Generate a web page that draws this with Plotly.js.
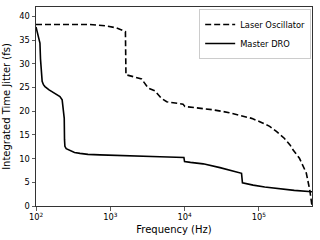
<!DOCTYPE html>
<html>
<head>
<meta charset="utf-8">
<script src="https://cdn.plot.ly/plotly-3.0.1.min.js"></script>
<style>html,body{margin:0;padding:0;background:#fff;}#chart{width:320px;height:240px;}</style>
</head>
<body>
<div id="chart"></div>
<script>
// Laser Oscillator (dashed)
var laserFreq = [100, 300, 530, 900, 1200, 1450, 1600, 1626, 1700, 2040, 2640, 2900, 3240, 3990, 4400, 4900, 5750, 7500, 9540, 10100, 15000, 24300, 40000, 55700, 80000, 103000, 140000, 174000, 220000, 263000, 290000, 352000, 416000, 435000, 485000, 512000, 520000];
var laserJitter = [38.3, 38.3, 38.3, 38.0, 37.6, 37.1, 36.8, 27.7, 27.6, 27.3, 26.8, 25.9, 24.9, 24.3, 23.5, 22.7, 22.0, 21.8, 21.5, 21.0, 20.7, 20.3, 19.7, 19.2, 18.5, 17.8, 16.8, 15.7, 14.3, 12.9, 11.8, 10.1, 7.6, 7.0, 3.4, 0.7, 0.0];
// Master DRO (solid)
var droFreq = [100, 104, 108, 111, 113, 115, 117, 121, 126, 132, 150, 180, 210, 225, 233, 240, 242, 245, 255, 287, 330, 391, 500, 727, 1500, 4660, 9800, 10000, 12000, 17800, 30000, 58500, 60200, 70000, 83800, 120000, 173000, 300000, 520000];
var droJitter = [37.8, 36.5, 35.2, 34.7, 34.4, 31.0, 28.5, 26.3, 25.6, 25.2, 24.5, 23.8, 23.1, 22.4, 20.6, 18.5, 14.0, 12.6, 12.1, 11.7, 11.3, 11.1, 10.9, 10.8, 10.7, 10.4, 10.25, 9.4, 9.2, 8.9, 8.1, 6.9, 4.9, 4.6, 4.4, 4.0, 3.7, 3.3, 3.0];

var xTickVals = [100, 1000, 10000, 100000];
var xTickText = ['10<sup>2</sup>', '10<sup>3</sup>', '10<sup>4</sup>', '10<sup>5</sup>'];
var seriesNames = ['Laser Oscillator', 'Master DRO'];

// minor tick positions: 2..9 times each decade
var minorTicks = [];
xTickVals.forEach(function (d) { for (var k = 2; k <= 9; k++) minorTicks.push(d * k); });

var FONT = 'DejaVu Sans, sans-serif';
var XR = [2, Math.log10(520000)];
var traces = [
  {x: laserFreq, y: laserJitter, name: seriesNames[0], mode: 'lines', type: 'scatter',
   line: {color: '#000', width: 1.6, dash: '6px,3px'}},
  {x: droFreq, y: droJitter, name: seriesNames[1], mode: 'lines', type: 'scatter',
   line: {color: '#000', width: 1.6}}
];
var layout = {
  width: 320, height: 240,
  margin: {l: 36, r: 8, t: 7, b: 34},
  paper_bgcolor: '#fff', plot_bgcolor: '#fff',
  font: {family: FONT, size: 8.3, color: '#000'},
  showlegend: true,
  legend: {x: 0.997, y: 0.99, xanchor: 'right', yanchor: 'top',
    bgcolor: 'rgba(255,255,255,0.8)', bordercolor: '#ccc', borderwidth: 1,
    font: {family: FONT, size: 8.3, color: '#000'}, tracegroupgap: 0, itemwidth: 30},
  xaxis: {
    type: 'log', range: XR,
    tickmode: 'array', tickvals: xTickVals, ticktext: xTickText,
    ticks: 'outside', ticklen: 3.5, tickcolor: '#333', tickwidth: 0.8,
    showline: true, linecolor: '#333', linewidth: 1, mirror: true,
    showgrid: false, zeroline: false,
    tickfont: {family: FONT, size: 8.3, color: '#000'},
    title: {text: 'Frequency (Hz)', font: {family: FONT, size: 10, color: '#000'}, standoff: 4},
    automargin: false
  },
  xaxis2: {
    type: 'log', range: XR, overlaying: 'x', anchor: 'y', side: 'bottom',
    tickmode: 'array', tickvals: minorTicks, showticklabels: false,
    ticks: 'outside', ticklen: 2, tickcolor: '#444', tickwidth: 0.7,
    showline: false, showgrid: false, zeroline: false, automargin: false
  },
  yaxis: {
    range: [0, 42], dtick: 5, tick0: 0,
    ticks: 'outside', ticklen: 3.5, tickcolor: '#333', tickwidth: 0.8,
    showline: true, linecolor: '#333', linewidth: 1, mirror: true,
    showgrid: false, zeroline: false,
    tickfont: {family: FONT, size: 8.3, color: '#000'},
    title: {text: 'Integrated Time Jitter (fs)', font: {family: FONT, size: 10, color: '#000'}, standoff: 6},
    automargin: false
  }
};
Plotly.newPlot('chart', traces, layout, {staticPlot: true, displayModeBar: false});
</script>
</body>
</html>
